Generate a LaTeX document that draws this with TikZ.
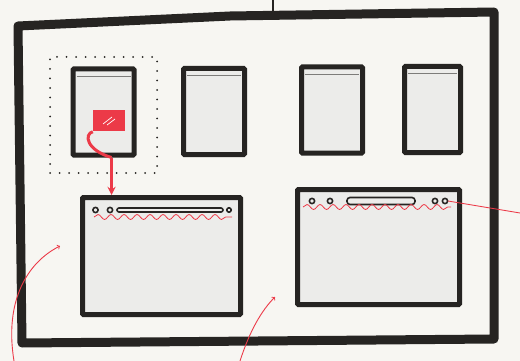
\documentclass[tikz,border=0pt]{standalone}
\usetikzlibrary{arrows,shapes}
\usetikzlibrary{positioning}
\usetikzlibrary{calc}
\usetikzlibrary{decorations, decorations.pathmorphing}
\definecolor{ink}{RGB}{38,36,34}
\definecolor{paper}{RGB}{247,246,242}
\definecolor{glass}{RGB}{236,236,234}
\definecolor{pen}{RGB}{236,58,72}
\tikzstyle{frame}=[draw=ink, line width=9pt, line join=round]
\tikzstyle{win}=[draw=ink, fill=glass, line width=5pt, inner sep=0pt, rounded corners=1pt]
\tikzstyle{small}=[win, minimum width=61pt, minimum height=86pt]
\tikzstyle{large}=[win, minimum width=160pt, minimum height=117pt]
\tikzstyle{bar}=[draw=ink, line width=1.6pt]
\tikzstyle{scribble}=[draw=pen, line width=0.8pt, decorate,
  decoration={snake, amplitude=2.5pt, segment length=13pt}]
\tikzstyle{redarrow}=[->, >=stealth, draw=pen, line width=2.6pt]
\tikzstyle{hint}=[->, >=to, draw=pen, line width=0.9pt]

\begin{document}
\begin{tikzpicture}[x=1pt, y=-1pt]

    \fill[paper] (0,0) rectangle (520,361);
    \useasboundingbox (0,0) rectangle (520,361);

    % outer screen
    \draw[frame] (18,26) -- (230,16) -- (494,12) -- (494,339) -- (22,343) -- cycle;
    \coordinate (cable) at (273,0);
    \draw[ink, line width=1.2pt] (cable) -- ++(0,15);

    % selection around first window
    \node[draw=ink, line width=2pt, line cap=round, dash pattern=on 0pt off 9.5pt,
          minimum width=107pt, minimum height=116pt] (sel) at (103.5,115) {};

    % small windows
    \node[small] (w1) at (103.5,112) {};
    \node[small] (w2) at (214,111.5) {};
    \node[small] (w3) at (332,110) {};
    \node[small, minimum width=56pt] (w4) at (432.5,109.5) {};

    \foreach \w in {w1,w2,w3,w4}
      \draw[ink!60, line width=1pt] ($(\w.north west)+(6,10)$) -- ($(\w.north east)+(-6,10)$);

    % large windows
    \node[large, minimum width=158pt] (big1) at (161.5,256) {};
    \node[large, minimum width=162pt, minimum height=115pt] (big2) at (378.5,247) {};

    % title bar of big1
    \draw[bar] ($(big1.north west)+(15.5,15)$) circle (2.6pt);
    \draw[bar] ($(big1.north west)+(30,15)$) circle (2.6pt);
    \draw[bar, rounded corners=2pt] ($(big1.north west)+(37,13)$) rectangle ($(big1.north west)+(143,17)$);
    \draw[bar] ($(big1.north west)+(149,15)$) circle (2.2pt);
    \draw[scribble] ($(big1.north west)+(14,22)$) -- ($(big1.north west)+(152,22)$);

    % title bar of big2
    \draw[bar] ($(big2.north west)+(17,14)$) circle (2.6pt);
    \draw[bar] ($(big2.north west)+(35,14)$) circle (2.6pt);
    \draw[bar, rounded corners=3pt] ($(big2.north west)+(52,10.5)$) rectangle ($(big2.north west)+(120,17.5)$);
    \draw[bar] ($(big2.north west)+(140,14)$) circle (2.6pt);
    \draw[bar] ($(big2.north west)+(150,14)$) circle (2.6pt);
    \draw[scribble] ($(big2.north west)+(8,20)$) -- ($(big2.north west)+(156,20)$);

    % dragged tab
    \node[fill=pen, minimum width=32pt, minimum height=21pt, inner sep=0pt] (tab) at (109,121) {};
    \draw[white, line width=0.7pt] ($(tab.center)+(-6,3)$) -- ($(tab.center)+(3,-4)$);
    \draw[white, line width=0.7pt] ($(tab.center)+(-2,4)$) -- ($(tab.center)+(6,-2)$);

    \coordinate (drop) at ($(w1.south)+(8,0)$);
    \draw[draw=pen, line width=3pt] (tab.south west) .. controls (84,134) and (86,150) .. (drop);
    \draw[redarrow] (drop) -- (drop |- big1.north);

    % hints
    \coordinate (hintA) at (14,361);
    \coordinate (hintB) at (240,361);
    \coordinate (hintC) at (520,213);
    \draw[hint] (hintA) .. controls (4,300) and (28,262) .. (60,246);
    \draw[hint] (hintB) .. controls (250,330) and (262,310) .. (275,297);
    \draw[draw=pen, line width=0.9pt] ($(big2.north east)+(-14,14)$) -- (hintC);

\end{tikzpicture}
\end{document}
